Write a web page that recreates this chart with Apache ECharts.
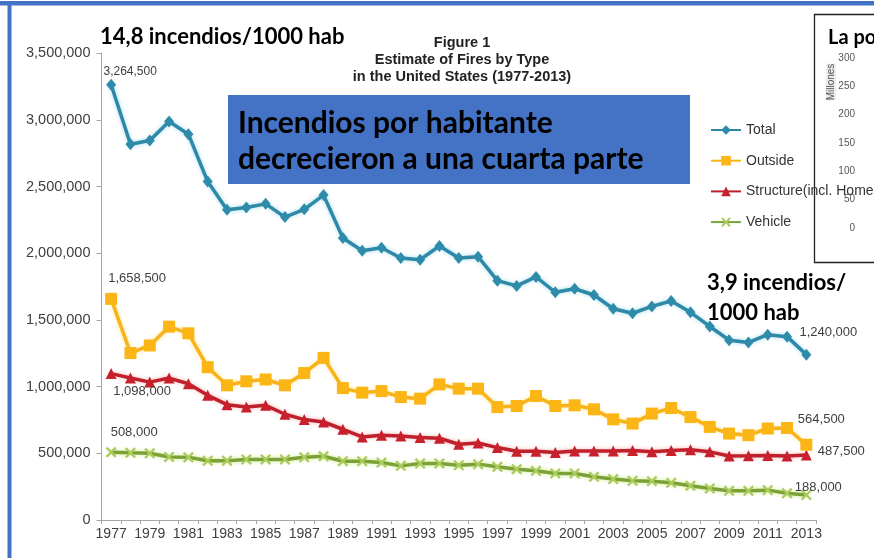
<!DOCTYPE html>
<html>
<head>
<meta charset="utf-8">
<script src="https://cdn.jsdelivr.net/npm/echarts@6/dist/echarts.min.js"></script>
<style>
html,body{margin:0;padding:0;background:#fff;}
#c{width:874px;height:558px;}
</style>
</head>
<body>
<div id="c"></div>
<script>
// ---- data ----
var years = [];
for (var y = 1977; y <= 2013; y++) years.push(String(y));
var totalFires = [3264500, 2817500, 2845500, 2988000, 2893500, 2538000, 2326500, 2343000, 2371000, 2271500, 2330000, 2436500, 2115000, 2019000, 2041500, 1964500, 1952500, 2054500, 1965500, 1975000, 1795000, 1755500, 1823000, 1708000, 1734500, 1687500, 1584500, 1550500, 1602000, 1642500, 1557500, 1451500, 1348500, 1331500, 1389500, 1375000, 1240000];
var outsideFires = [1658500, 1252000, 1309000, 1450000, 1400000, 1146000, 1010000, 1040000, 1054000, 1010000, 1102000, 1216000, 989000, 955000, 967000, 922000, 910000, 1017000, 985000, 985000, 847000, 855000, 930000, 855000, 860000, 830000, 755000, 723000, 798000, 840000, 772000, 698000, 648000, 636000, 686000, 690000, 564500];
var structureFires = [1098000, 1064500, 1034000, 1064500, 1022000, 935000, 865000, 847000, 860000, 793000, 753000, 735000, 680500, 623000, 636000, 630000, 618000, 613000, 568000, 578000, 543000, 516000, 516000, 506000, 518000, 518000, 518000, 521000, 511000, 521000, 526000, 511000, 480500, 482000, 484500, 480500, 487500];
var vehicleFires = [508000, 503500, 500000, 473000, 470000, 444000, 445000, 454000, 454000, 454000, 470000, 478000, 441000, 441000, 431000, 406000, 424000, 424000, 410000, 419000, 399000, 381000, 369000, 349000, 349000, 324000, 307000, 294000, 291000, 279000, 257000, 237000, 219000, 219000, 224000, 200000, 188000];
var seriesNames = ['Total', 'Outside', 'Structure(incl. Homes)', 'Vehicle'];
var insetTicks = [0, 300, 50]; // min, max, step of inset axis (millones)

// ---- helpers ----
var SANS = '"Liberation Sans", Arial, sans-serif';
function fmt(v) { return Number(v).toLocaleString('en-US'); }
function withLabels(arr, first, last) {
  return arr.map(function (v, i) {
    if (i === 0 && first) return { value: v, label: Object.assign({ show: true, formatter: fmt(v), color: '#404040', fontFamily: SANS, fontSize: 13 }, first) };
    if (i === arr.length - 1 && last) return { value: v, label: Object.assign({ show: true, formatter: fmt(v), color: '#404040', fontFamily: SANS, fontSize: 13 }, last) };
    return v;
  });
}
var xPath = 'path://M0,1.5L1.5,0L5,3.5L8.5,0L10,1.5L6.5,5L10,8.5L8.5,10L5,6.5L1.5,10L0,8.5L3.5,5Z';

var chart = echarts.init(document.getElementById('c'), null, { renderer: 'canvas' });
chart.setOption({
  backgroundColor: '#ffffff',
  animation: false,
  title: {
    text: 'Figure 1\nEstimate of Fires by Type\nin the United States (1977-2013)',
    left: 457, top: 29.5, textAlign: 'center',
    textStyle: { fontFamily: SANS, fontSize: 14.5, fontWeight: 'bold', color: '#222', lineHeight: 17 }
  },
  legend: {
    orient: 'vertical', left: 705, top: 118,
    itemWidth: 30, itemHeight: 12, itemGap: 16.7,
    data: seriesNames,
    textStyle: { fontFamily: SANS, fontSize: 14, color: '#333' },
    z: 5
  },
  grid: [
    { left: 101.5, right: 58, top: 53.3, bottom: 38 },
    { left: 858, right: 0, top: 58, height: 170 }
  ],
  xAxis: [
    {
      type: 'category', data: years, boundaryGap: true,
      axisLine: { lineStyle: { color: '#a6a6a6', width: 1 } },
      axisTick: { show: true, length: 4, lineStyle: { color: '#a6a6a6' }, interval: 0 },
      axisLabel: { interval: 1, fontFamily: SANS, fontSize: 14, color: '#404040', margin: 7 },
      splitLine: { show: false }
    },
    { type: 'category', gridIndex: 1, data: ['a'], show: false }
  ],
  yAxis: [
    {
      type: 'value', min: 0, max: 3500000, interval: 500000,
      axisLine: { show: true, lineStyle: { color: '#a6a6a6', width: 1 } },
      axisTick: { show: true, length: 5, lineStyle: { color: '#a6a6a6' } },
      axisLabel: { formatter: fmt, fontFamily: SANS, fontSize: 14.5, color: '#404040', margin: 11 },
      splitLine: { show: false }
    },
    {
      type: 'value', gridIndex: 1, min: insetTicks[0], max: insetTicks[1], interval: insetTicks[2],
      axisLine: { show: false }, axisTick: { show: false }, splitLine: { show: false },
      axisLabel: { fontFamily: SANS, fontSize: 10, color: '#555', margin: 3 }
    }
  ],
  series: [
    {
      name: seriesNames[3], type: 'line', data: withLabels(vehicleFires, { position: 'top', offset: [23, -3] }, { position: 'top', offset: [12, 9] }),
      symbol: xPath, symbolSize: 11, z: 2,
      lineStyle: { color: '#7BA236', width: 3.5, shadowColor: 'rgba(200,230,120,0.8)', shadowBlur: 4 },
      itemStyle: { color: '#A9CC5C' }
    },
    {
      name: seriesNames[2], type: 'line', data: withLabels(structureFires, { position: 'bottom', offset: [31, 1] }, { position: 'right', offset: [1, -4] }),
      symbol: 'triangle', symbolSize: 11, z: 3,
      lineStyle: { color: '#C0202B', width: 3.5, shadowColor: 'rgba(240,150,150,0.7)', shadowBlur: 4 },
      itemStyle: { color: '#C8202C' }
    },
    {
      name: seriesNames[1], type: 'line', data: withLabels(outsideFires, { position: 'top', offset: [26, -3] }, { position: 'top', offset: [15, -8] }),
      symbol: 'rect', symbolSize: 12, z: 4,
      lineStyle: { color: '#F8B31A', width: 3.5, shadowColor: 'rgba(255,220,120,0.8)', shadowBlur: 4 },
      itemStyle: { color: '#FBB515' }
    },
    {
      name: seriesNames[0], type: 'line', data: withLabels(totalFires, { position: 'top', offset: [19, 4], fontSize: 12 }, { position: 'top', offset: [22, -5] }),
      symbol: 'diamond', symbolSize: [10, 12], z: 5,
      lineStyle: { color: '#2E88A8', width: 3.5, shadowColor: 'rgba(140,210,230,0.8)', shadowBlur: 4 },
      itemStyle: { color: '#2E8CAA' }
    },
    { name: 'inset', type: 'line', xAxisIndex: 1, yAxisIndex: 1, data: [], silent: true }
  ],
  graphic: [
    // slide frame
    { type: 'rect', shape: { x: 0, y: 1, width: 874, height: 4.5 }, style: { fill: '#4472C4' }, z: 100 },
    { type: 'rect', shape: { x: 7.5, y: 1, width: 4, height: 557 }, style: { fill: '#4472C4' }, z: 100 },
    // inset chart box
    { type: 'rect', shape: { x: 814.5, y: 14.5, width: 70, height: 248 }, style: { fill: '#fff', stroke: '#222', lineWidth: 1.3 }, z: 0, zlevel: 0 },
    { type: 'text', left: 828, top: 28, style: { text: 'La población', font: 'bold 20px Lato, sans-serif', fill: '#000' }, z: 1 },
    { type: 'text', x: 831, y: 82, rotation: Math.PI / 2, style: { text: 'Millones', font: '10px ' + SANS, fill: '#555', align: 'center', verticalAlign: 'middle', backgroundColor: '#ececec' }, z: 1 },
    // annotations
    { type: 'text', left: 100, top: 26, style: { text: '14,8 incendios/1000 hab', font: 'bold 22px Lato, sans-serif', fill: '#000' }, z: 10 },
    { type: 'rect', shape: { x: 228, y: 95, width: 462, height: 89 }, style: { fill: '#4472C4' }, z: 10 },
    { type: 'text', x: 238, y: 123, style: { text: 'Incendios por habitante', font: 'bold 30px Lato, sans-serif', fill: '#000', verticalAlign: 'middle' }, z: 11 },
    { type: 'text', x: 238, y: 159, style: { text: 'decrecieron a una cuarta parte', font: 'bold 30px Lato, sans-serif', fill: '#000', verticalAlign: 'middle' }, z: 11 },
    { type: 'text', x: 707, y: 283, style: { text: '3,9 incendios/', font: 'bold 22px Lato, sans-serif', fill: '#000', verticalAlign: 'middle' }, z: 10 },
    { type: 'text', x: 707, y: 313, style: { text: '1000 hab', font: 'bold 22px Lato, sans-serif', fill: '#000', verticalAlign: 'middle' }, z: 10 }
  ]
});
</script>
</body>
</html>
